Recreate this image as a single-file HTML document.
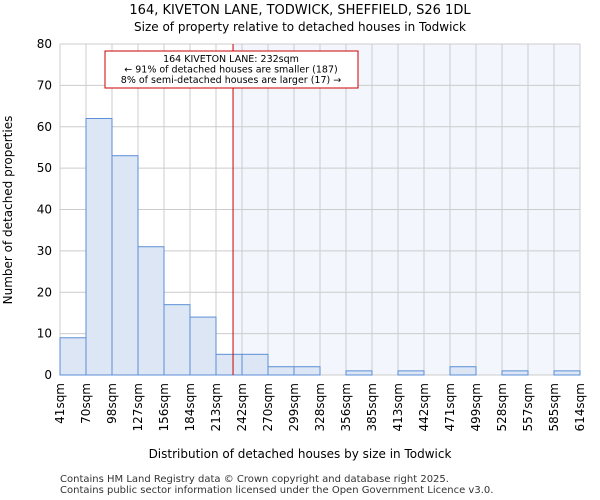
<!DOCTYPE html>
<html><head><meta charset="utf-8"><style>
body{margin:0;background:#fff;font-family:"DejaVu Sans","Liberation Sans",sans-serif}
svg{display:block}
</style></head><body>
<svg id="chart" width="600" height="500" font-family="DejaVu Sans, Liberation Sans, sans-serif">
<text x="300" y="14" text-anchor="middle" font-size="13">164, KIVETON LANE, TODWICK, SHEFFIELD, S26 1DL</text>
<text x="300" y="31" text-anchor="middle" font-size="12">Size of property relative to detached houses in Todwick</text>
<g id="plot"></g>
<text x="300" y="458" text-anchor="middle" font-size="12">Distribution of detached houses by size in Todwick</text>
<text transform="translate(12,210) rotate(-90)" text-anchor="middle" font-size="12">Number of detached properties</text>
<text x="60" y="482" font-size="10" fill="#333">Contains HM Land Registry data © Crown copyright and database right 2025.</text>
<text x="60" y="493" font-size="10" fill="#333">Contains public sector information licensed under the Open Government Licence v3.0.</text>
</svg>
<script>
const binLabels=["41sqm","70sqm","98sqm","127sqm","156sqm","184sqm","213sqm","242sqm","270sqm","299sqm","328sqm","356sqm","385sqm","413sqm","442sqm","471sqm","499sqm","528sqm","557sqm","585sqm","614sqm"];
const binEdges=[41,70,98,127,156,184,213,242,270,299,328,356,385,413,442,471,499,528,557,585,614];
const counts=[9,62,53,31,17,14,5,5,2,2,0,1,0,1,0,2,0,1,0,1];
const yTicks=[0,10,20,30,40,50,60,70,80];
const subjectSize=232;
const NS="http://www.w3.org/2000/svg";
const L=60,R=580,T=44,B=375,yMax=80;
const nb=binEdges.length-1;
function xIdx(i){return L+(R-L)*i/nb;}
function xVal(v){for(let i=0;i<nb;i++){if(v<=binEdges[i+1]){return xIdx(i+(v-binEdges[i])/(binEdges[i+1]-binEdges[i]));}}return R;}
function y(v){return B-(B-T)*v/yMax;}
const g=document.getElementById("plot");
function mk(t,a){const e=document.createElementNS(NS,t);for(const k in a)e.setAttribute(k,a[k]);g.appendChild(e);return e;}
const sx=xVal(subjectSize);
let e=mk("rect",{x:sx,y:T,width:R-sx,height:B-T,fill:"#f3f6fd"});


for(const t of yTicks){e=mk("line",{x1:L,x2:R,y1:y(t),y2:y(t),stroke:"#ccc","stroke-width":1});


e=mk("text",{x:L-8,y:y(t)+4,"text-anchor":"end","font-size":"12"});e.textContent=t;

}
for(let i=0;i<=nb;i++){e=mk("line",{x1:xIdx(i),x2:xIdx(i),y1:T,y2:B,stroke:"#ccc","stroke-width":1});


const tx=xIdx(i)+4;e=mk("text",{transform:`translate(${tx},${B+8}) rotate(-90)`,"text-anchor":"end","font-size":"12"});e.textContent=binLabels[i];

}
counts.forEach((c,i)=>{if(c<=0)return;e=mk("rect",{x:xIdx(i),y:y(c),width:xIdx(i+1)-xIdx(i),height:B-y(c),fill:"#dce6f4",stroke:"#5b8fd6","stroke-width":1});

});
e=mk("line",{x1:sx,x2:sx,y1:T,y2:B,stroke:"#c00","stroke-width":1});


e=mk("rect",{x:105,y:51,width:253,height:37,fill:"#fff",stroke:"#c00","stroke-width":1});


const ann=["164 KIVETON LANE: 232sqm","← 91% of detached houses are smaller (187)","8% of semi-detached houses are larger (17) →"];
ann.forEach((s,i)=>{e=mk("text",{x:231,y:62+i*10.5,"text-anchor":"middle","font-size":"9.5"});e.textContent=s;

});
</script>
</body></html>
